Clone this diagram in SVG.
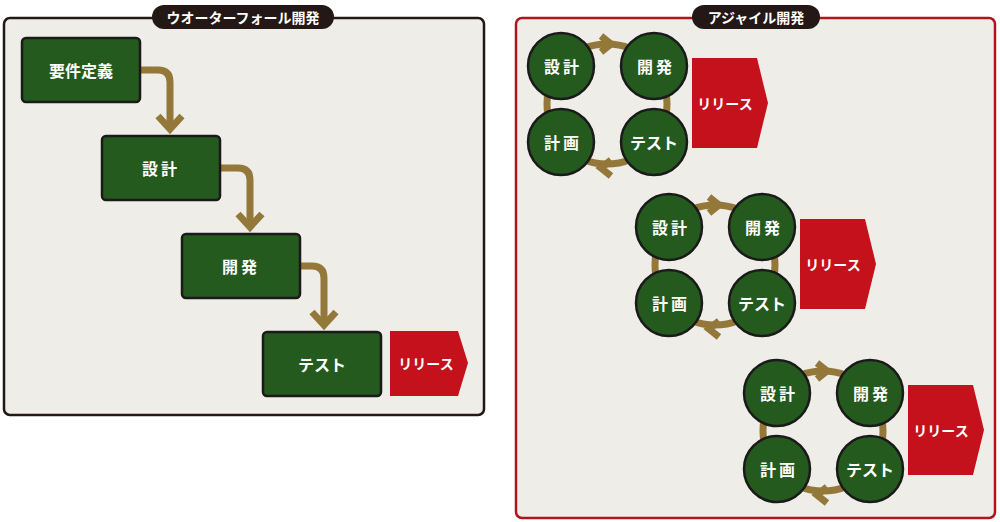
<svg xmlns="http://www.w3.org/2000/svg" width="1000" height="522" viewBox="0 0 1000 522">
<defs>
<style>
text{font-family:"Noto Sans CJK JP","Noto Sans",sans-serif;font-weight:700;fill:#fff;text-anchor:middle;dominant-baseline:central}
.panel{fill:#efede8;stroke-width:2.5}
.pill{fill:#231815}
.box{fill:#245a1e;stroke:#1a1a1a;stroke-width:2.5}
.cir{fill:#245a1e;stroke:#1a1a1a;stroke-width:2.5}
.flow{fill:none;stroke:#93783a;stroke-width:7}
.ring{fill:none;stroke:#93783a;stroke-width:7}
.rel{fill:#c4111b}
.t{font-size:16px}
.c{font-size:16px;letter-spacing:3px}
.r{font-size:14px}
.h{font-size:14px}
</style>
<g id="cycle">
<circle class="ring" cx="46" cy="38" r="60"/>
<polyline class="flow" points="40,-30 50,-22 40,-14" stroke-linejoin="miter"/>
<polyline class="flow" points="50,94 40,102 50,110"/>
<circle class="cir" cx="0" cy="0" r="33"/>
<text class="c" x="2" y="0">設計</text>
<circle class="cir" cx="93" cy="0" r="33"/>
<text class="c" x="95" y="0">開発</text>
<circle class="cir" cx="0" cy="76" r="33"/>
<text class="c" x="2" y="76">計画</text>
<circle class="cir" cx="93" cy="76" r="33"/>
<text class="t" x="93" y="76">テスト</text>
<polygon class="rel" points="131,-8 196,-8 207,37 196,82 131,82"/>
<text class="r" x="164" y="37">リリース</text>
</g>
</defs>
<g id="waterfall-panel">
<rect class="panel" x="4" y="18" width="480" height="397" rx="6" stroke="#231815"/>
<rect class="pill" x="152" y="5" width="182" height="24" rx="12"/>
<text class="h" x="243" y="17">ウオーターフォール開発</text>
</g>
<g id="agile-panel">
<rect class="panel" x="516" y="18" width="479" height="500" rx="6" stroke="#b0141c"/>
<rect class="pill" x="692" y="5" width="128" height="24" rx="12"/>
<text class="h" x="756" y="17">アジャイル開発</text>
</g>
<g id="connectors">
<path class="flow" d="M140,70 H158 Q170,70 170,82 V128"/>
<polyline class="flow" points="158,116 170,129 182,116"/>
<path class="flow" d="M220,168 H238 Q250,168 250,180 V226"/>
<polyline class="flow" points="238,214 250,227 262,214"/>
<path class="flow" d="M300,266 H312 Q324,266 324,278 V324"/>
<polyline class="flow" points="312,312 324,325 336,312"/>
</g>
<g id="req"><rect class="box" x="22" y="38" width="118" height="64" rx="4"/><text class="t" x="81" y="70">要件定義</text></g>
<g id="design"><rect class="box" x="102" y="136" width="118" height="64" rx="4"/><text class="c" x="161" y="168">設計</text></g>
<g id="dev"><rect class="box" x="182" y="234" width="118" height="64" rx="4"/><text class="c" x="241" y="266">開発</text></g>
<g id="test"><rect class="box" x="263" y="332" width="118" height="64" rx="4"/><text class="t" x="322" y="364">テスト</text></g>
<g id="release-wf"><polygon class="rel" points="390,331 458,331 468,363 458,396 390,396"/><text class="r" x="426" y="363">リリース</text></g>
<g id="cycle1"><use href="#cycle" x="561" y="66"/></g>
<g id="cycle2"><use href="#cycle" x="669" y="227"/></g>
<g id="cycle3"><use href="#cycle" x="777" y="393"/></g>
</svg>
